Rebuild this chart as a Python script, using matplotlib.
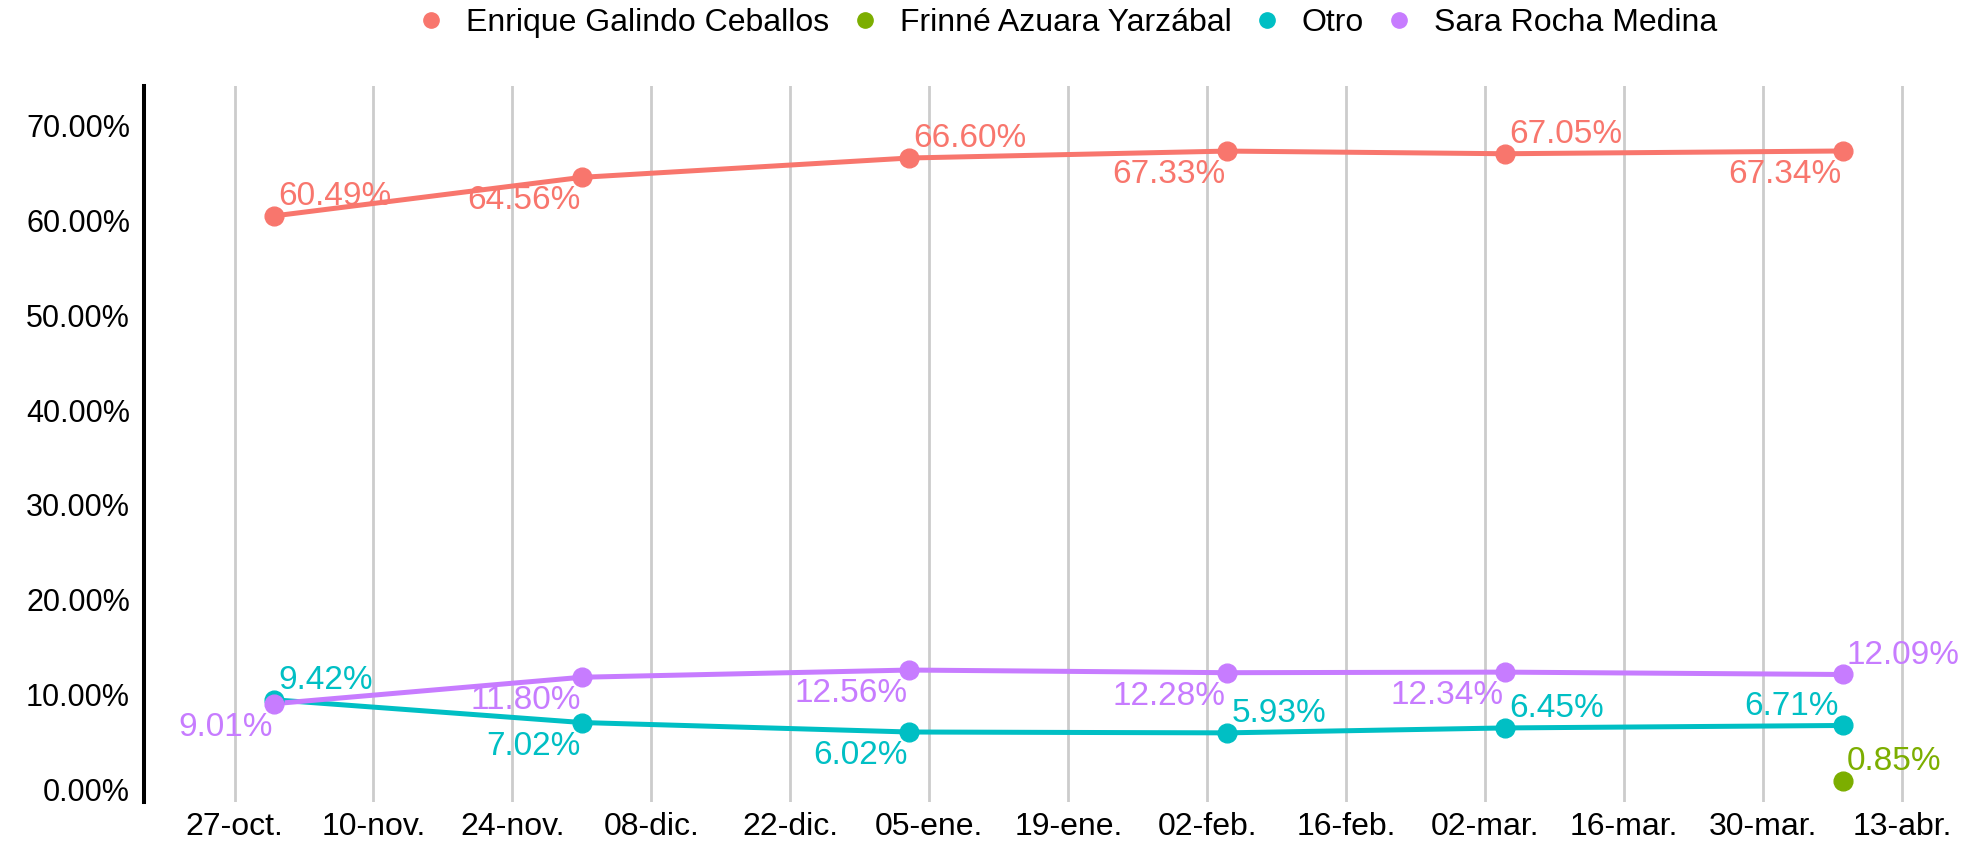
import numpy as np
import pandas as pd
import matplotlib
matplotlib.use('Agg')
import matplotlib.pyplot as plt
from matplotlib.lines import Line2D

plt.rcParams['font.family'] = ['Liberation Sans', 'DejaVu Sans']

# data
fechas = pd.to_datetime(['2024-10-31', '2024-12-01', '2025-01-03',
                         '2025-02-04', '2025-03-04', '2025-04-07'])
enrique = [60.49, 64.56, 66.60, 67.33, 67.05, 67.34]
otro = [9.42, 7.02, 6.02, 5.93, 6.45, 6.71]
sara = [9.01, 11.80, 12.56, 12.28, 12.34, 12.09]
frinne_fecha = pd.to_datetime(['2025-04-07'])
frinne = [0.85]

# where each value label sits relative to its point
enrique_pos = ['ur', 'll', 'ur', 'll', 'ur', 'll']
otro_pos = ['ur', 'll', 'll', 'ur', 'ur', 'ul']
sara_pos = ['ll', 'll', 'll', 'll', 'll', 'ur']
frinne_pos = ['ur']

tick_fechas = pd.date_range('2024-10-27', '2025-04-13', freq='14D')
tick_labels = ['27-oct.', '10-nov.', '24-nov.', '08-dic.', '22-dic.', '05-ene.',
               '19-ene.', '02-feb.', '16-feb.', '02-mar.', '16-mar.', '30-mar.',
               '13-abr.']
y_ticks = [0, 10, 20, 30, 40, 50, 60, 70]

nombres = ['Enrique Galindo Ceballos', 'Frinné Azuara Yarzábal', 'Otro', 'Sara Rocha Medina']
colores = ['#F8766D', '#7CAE00', '#00BFC4', '#C77CFF']

fig = plt.figure(figsize=(19.64, 8.43), dpi=100)
ax = fig.add_axes([0.0733, 0.0486, 0.9217, 0.8494])

offsets = {'ur': ((3, 14), 'left'), 'ul': ((-3, 14), 'right'),
           'll': ((-1, -17), 'right')}


def serie(x, y, color, pos, linea=True):
    if linea:
        ax.plot(x, y, color=color, lw=3.6, zorder=3, solid_capstyle='round')
    ax.plot(x, y, 'o', color=color, ms=13.5, zorder=4)
    for xi, yi, p in zip(x, y, pos):
        off, ha = offsets[p]
        ax.annotate(f'{yi:.2f}%', (xi, yi), xytext=off, textcoords='offset points',
                    ha=ha, va='center', color=color, fontsize=24, zorder=5)


serie(fechas, enrique, colores[0], enrique_pos)
serie(fechas, otro, colores[2], otro_pos)
serie(fechas, sara, colores[3], sara_pos)
serie(frinne_fecha, frinne, colores[1], frinne_pos, linea=False)

ax.set_xlim(pd.Timestamp('2024-10-17 21:00'), pd.Timestamp('2025-04-18 06:00'))
ax.set_ylim(-1.37, 74.2)
ax.set_xticks(tick_fechas)
ax.set_xticklabels(tick_labels)
ax.set_yticks(y_ticks)
ax.set_yticklabels([f'{v:.2f}%' for v in y_ticks])
ax.tick_params(length=0, colors='black')
ax.tick_params(axis='x', pad=7, labelsize=23)
ax.tick_params(axis='y', pad=10, labelsize=22)
ax.grid(axis='x', color='#cccccc', lw=2)
ax.set_axisbelow(True)
for s in ['top', 'right', 'bottom']:
    ax.spines[s].set_visible(False)
ax.spines['left'].set_linewidth(2.9)
ax.spines['left'].set_color('black')

handles = [Line2D([], [], marker='o', ls='', color=c, ms=11) for c in colores]
fig.legend(handles, nombres, loc='center', bbox_to_anchor=(0.543, 0.973), ncol=4,
           frameon=False, fontsize=23, handletextpad=0.6, columnspacing=0.6,
           handlelength=1.0)

fig.savefig('out.png', dpi=100)
